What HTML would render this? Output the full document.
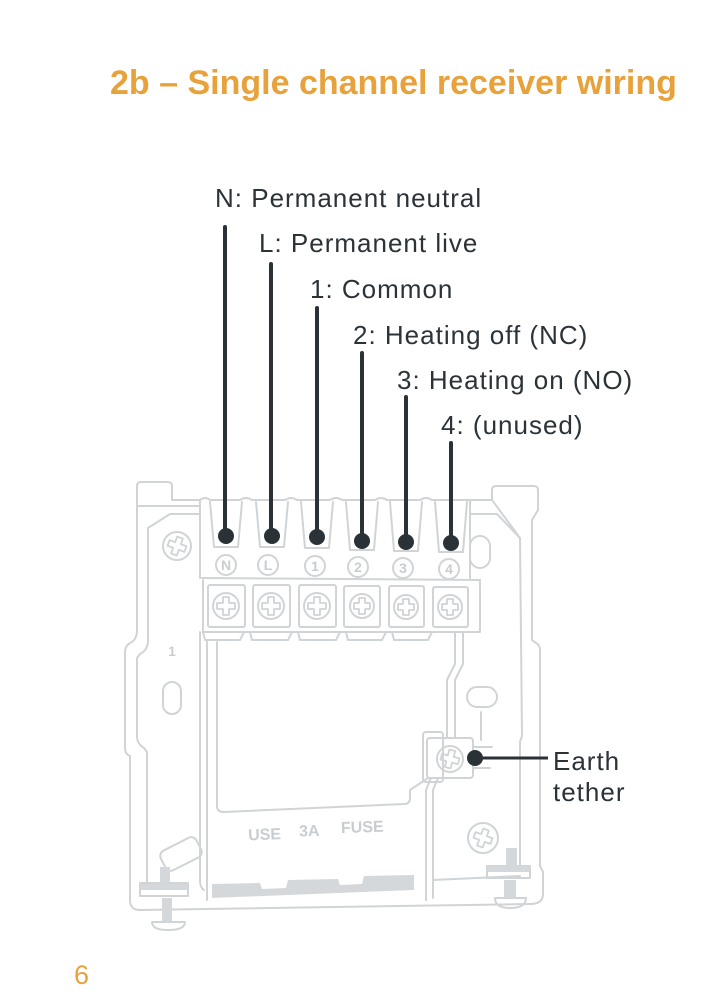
<!DOCTYPE html>
<html>
<head>
<meta charset="utf-8">
<style>
  html,body{margin:0;padding:0;background:#fff;}
  body{width:720px;height:1004px;position:relative;overflow:hidden;font-family:"Liberation Sans",sans-serif;}
  .t{position:absolute;font-size:26px;letter-spacing:1px;color:#2b3338;white-space:nowrap;line-height:1;}
  .title{position:absolute;left:110px;top:66px;font-size:34px;font-weight:bold;color:#e8a23c;white-space:nowrap;line-height:1;}
  .pg{position:absolute;left:74px;top:962px;font-size:27px;color:#e8a23c;line-height:1;}
  svg{position:absolute;left:0;top:0;}
</style>
</head>
<body>
<div class="title">2b – Single channel receiver wiring</div>

<svg width="720" height="1004" viewBox="0 0 720 1004">
  <g fill="none" stroke="#d0d4d6" stroke-width="2" stroke-linejoin="round" stroke-linecap="round">
    <!-- outer body -->
    <path d="M200,500 L172,500 L172,486 Q172,482 168,482 L141,482 Q137,482 137,486 L137,630 Q137,640 130,643 Q125,646 125,652 L125,748 Q125,754 130,756 L130,900 Q130,910 140,910 L530,904 Q543,904 543,894 L543,872 L540,866 L540,650 Q540,645 536,643 L532,640 L532,520 L538,510 L538,490 Q538,486 534,486 L496,486 Q492,486 492,490 L492,500 L470,500"/>
    <!-- left inner bracket -->
    <path d="M137,506 L200,506"/>
    <path d="M200,514 L170,514 L148,528 L148,640 Q148,650 140,654 L137,658 L137,736 Q137,744 144,748 L147,752 L147,884"/>
    <!-- right inner bracket -->
    <path d="M470,514 L497,514 L520,538 L522,736 L520,742 L520,866"/>
    <path d="M492,500 L520,538"/>
    <!-- comb top -->
    <path d="M200,500 Q205,496 210,500 L240,500 Q246,496 252,500 L285,500 Q291,496 297,500 L330,500 Q336,496 342,500 L375,500 Q381,496 387,500 L420,500 Q426,496 432,500 L470,500"/>
    <path d="M200,500 L200,578"/>
    <path d="M470,500 L470,578"/>
    <!-- slots -->
    <path d="M210,502 L214,547 L238,547 L242,502"/>
    <path d="M256,502 L260,547 L284,547 L288,502"/>
    <path d="M301,502 L305,548 L329,548 L333,502"/>
    <path d="M346,502 L350,550 L374,550 L378,502"/>
    <path d="M390,502 L394,551 L418,551 L422,502"/>
    <path d="M435,502 L439,552 L463,552 L467,502"/>
    <!-- label line & terminal block -->
    <path d="M202,578 L480,580"/>
    <path d="M203,580 L203,632 L480,632 L480,580"/>
    <rect x="208" y="585" width="37" height="42" rx="2"/>
    <rect x="253" y="585" width="37" height="42" rx="2"/>
    <rect x="299" y="585" width="37" height="42" rx="2"/>
    <rect x="344" y="586" width="36" height="41" rx="2"/>
    <rect x="389" y="586" width="35" height="41" rx="2"/>
    <rect x="433" y="587" width="35" height="40" rx="2"/>
    <path d="M203,632 L205,640 L240,640 L244,632 M250,632 L252,640 L288,640 L292,632 M298,632 L300,640 L336,640 L340,632 M346,632 L348,640 L382,640 L386,632 M392,632 L394,640 L428,640 L432,632"/>
    <!-- label circles -->
    <circle cx="226" cy="565" r="10"/>
    <circle cx="268" cy="565" r="10"/>
    <circle cx="315" cy="566" r="10"/>
    <circle cx="358" cy="567" r="10"/>
    <circle cx="403" cy="568" r="10"/>
    <circle cx="449" cy="569" r="10"/>
    <!-- center window -->
    <path d="M207,640 L207,900"/>
    <path d="M200,632 L200,880 Q200,888 204,890"/>
    <path d="M217,642 L217,806 Q217,812 224,812 L404,804 Q410,804 410,798 L410,790 L428,778"/>
    <path d="M455,632 L455,664 L447,680 L447,738"/>
    <path d="M463,632 L463,664 L455,680 L455,738"/>
    <path d="M431,778 L426,790 L426,900"/>
    <path d="M438,778 L433,790 L433,898"/>
    <path d="M433,880 L520,876"/>
    <!-- earth tether box -->
    <rect x="423" y="732" width="20" height="50" rx="3"/>
    <rect x="427" y="738" width="46" height="40" rx="3"/>
    <path d="M481,712 L481,740 M473,747 L492,747 M473,768 L490,768"/>
    <!-- ovals -->
    <rect x="163" y="682" width="18" height="32" rx="9"/>
    <rect x="470" y="536" width="20" height="32" rx="10"/>
    <rect x="467" y="687" width="30" height="20" rx="10"/>
    <!-- tilted tab -->
    <rect x="161" y="843" width="40" height="22" rx="6" transform="rotate(-27 181 854)"/>
    <!-- left foot outline -->
    <path d="M140,883 L188,883 L188,896 L140,896 Z"/>
    <path d="M152,922 Q152,930 168,930 Q185,930 185,922 L152,922"/>
    <!-- right foot outline -->
    <path d="M487,866 L530,866 L530,878 L487,878 Z"/>
    <path d="M495,898 Q495,908 510,908 Q526,908 526,898 L495,898"/>
  </g>

  <!-- screws -->
  <g fill="none" stroke="#d0d4d6" stroke-width="2">
    <circle cx="177" cy="546" r="14"/>
    <circle cx="483" cy="838" r="15"/>
    <circle cx="226" cy="606" r="13"/>
    <circle cx="271" cy="606" r="13"/>
    <circle cx="317" cy="606" r="13"/>
    <circle cx="362" cy="606" r="12"/>
    <circle cx="406" cy="607" r="12"/>
    <circle cx="450" cy="607" r="12"/>
    <circle cx="450" cy="759" r="13"/>
  </g>
  <g fill="none" stroke="#d0d4d6" stroke-width="1.8" stroke-linejoin="round">
    <path d="M-3,-9 L3,-9 L3,-3 L9,-3 L9,3 L3,3 L3,9 L-3,9 L-3,3 L-9,3 L-9,-3 L-3,-3 Z" transform="translate(177,546) rotate(20)"/>
    <path d="M-3,-9 L3,-9 L3,-3 L9,-3 L9,3 L3,3 L3,9 L-3,9 L-3,3 L-9,3 L-9,-3 L-3,-3 Z" transform="translate(483,838) rotate(20)"/>
    <path d="M-3,-9 L3,-9 L3,-3 L9,-3 L9,3 L3,3 L3,9 L-3,9 L-3,3 L-9,3 L-9,-3 L-3,-3 Z" transform="translate(226,606)"/>
    <path d="M-3,-9 L3,-9 L3,-3 L9,-3 L9,3 L3,3 L3,9 L-3,9 L-3,3 L-9,3 L-9,-3 L-3,-3 Z" transform="translate(271,606)"/>
    <path d="M-3,-9 L3,-9 L3,-3 L9,-3 L9,3 L3,3 L3,9 L-3,9 L-3,3 L-9,3 L-9,-3 L-3,-3 Z" transform="translate(317,606)"/>
    <path d="M-3,-8 L3,-8 L3,-3 L8,-3 L8,3 L3,3 L3,8 L-3,8 L-3,3 L-8,3 L-8,-3 L-3,-3 Z" transform="translate(362,606)"/>
    <path d="M-3,-8 L3,-8 L3,-3 L8,-3 L8,3 L3,3 L3,8 L-3,8 L-3,3 L-8,3 L-8,-3 L-3,-3 Z" transform="translate(406,607)"/>
    <path d="M-3,-8 L3,-8 L3,-3 L8,-3 L8,3 L3,3 L3,8 L-3,8 L-3,3 L-8,3 L-8,-3 L-3,-3 Z" transform="translate(450,607)"/>
    <path d="M-3,-9 L3,-9 L3,-3 L9,-3 L9,3 L3,3 L3,9 L-3,9 L-3,3 L-9,3 L-9,-3 L-3,-3 Z" transform="translate(450,759) rotate(15)"/>
  </g>

  <!-- grey filled parts -->
  <g fill="#d5d8da" stroke="none">
    <polygon points="212,884 260,883 262,889 286,888 288,880 338,879 340,885 362,884 364,876 414,875 414,890 212,898"/>
    <rect x="160" y="867" width="10" height="16"/>
    <rect x="140" y="884" width="48" height="6"/>
    <rect x="162" y="898" width="10" height="24"/>
    <rect x="506" y="848" width="11" height="18"/>
    <rect x="487" y="866" width="43" height="6"/>
    <rect x="504" y="880" width="12" height="18"/>
  </g>

  <!-- grey labels -->
  <g fill="#c9cdd0" font-family="Liberation Sans, sans-serif" font-weight="bold" text-anchor="middle">
    <text x="226" y="570" font-size="14">N</text>
    <text x="268" y="570" font-size="14">L</text>
    <text x="315" y="571" font-size="14">1</text>
    <text x="358" y="572" font-size="14">2</text>
    <text x="403" y="573" font-size="14">3</text>
    <text x="449" y="574" font-size="14">4</text>
    <text x="172" y="656" font-size="14">1</text>
  </g>
  <g fill="#c9cdd0" font-family="Liberation Sans, sans-serif" font-weight="bold" font-size="16" transform="rotate(-2 315 830)">
    <text x="248" y="838">USE</text>
    <text x="299" y="836">3A</text>
    <text x="341" y="834">FUSE</text>
  </g>

  <!-- wires -->
  <g stroke="#2a3238" stroke-width="4" stroke-linecap="round">
    <line x1="225" y1="227" x2="225" y2="536"/>
    <line x1="271" y1="264" x2="271" y2="536"/>
    <line x1="317" y1="308" x2="317" y2="537"/>
    <line x1="362" y1="353" x2="362" y2="541"/>
    <line x1="406" y1="397" x2="406" y2="542"/>
    <line x1="451" y1="443" x2="451" y2="543"/>
  </g>
  <line x1="475" y1="758" x2="548" y2="758" stroke="#2a3238" stroke-width="3"/>
  <g fill="#2a3238">
    <circle cx="226" cy="536" r="8"/>
    <circle cx="272" cy="536" r="8"/>
    <circle cx="317" cy="537" r="8"/>
    <circle cx="362" cy="541" r="8"/>
    <circle cx="406" cy="542" r="8"/>
    <circle cx="451" cy="543" r="8"/>
    <circle cx="475" cy="758" r="8"/>
  </g>
</svg>

<div class="t" style="left:215px;top:185px;">N: Permanent neutral</div>
<div class="t" style="left:259px;top:230px;">L: Permanent live</div>
<div class="t" style="left:310px;top:276px;">1: Common</div>
<div class="t" style="left:353px;top:322px;">2: Heating off (NC)</div>
<div class="t" style="left:397px;top:367px;">3: Heating on (NO)</div>
<div class="t" style="left:441px;top:412px;">4: (unused)</div>
<div class="t" style="left:553px;top:748px;">Earth</div>
<div class="t" style="left:553px;top:779px;">tether</div>

<div class="pg">6</div>
</body>
</html>
